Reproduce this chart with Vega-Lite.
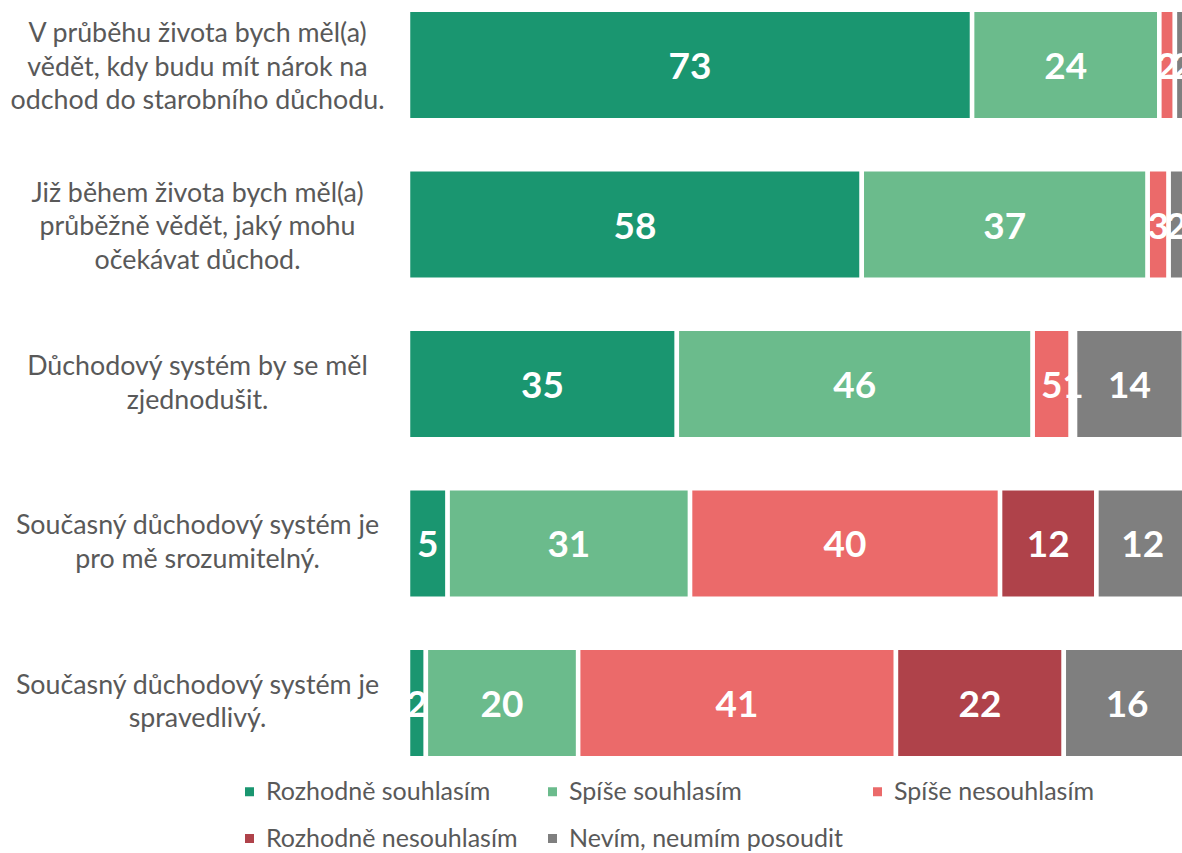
{
  "$schema": "https://vega.github.io/schema/vega-lite/v6.json",
  "width": 777,
  "height": 768,
  "autosize": {"type": "none"},
  "padding": {"left": 408, "top": 0, "right": 0, "bottom": 85},
  "background": "white",
  "config": {"view": {"stroke": null}, "font": "Lato"},
  "data": {
    "values": [
      {"q": "V průběhu života bych měl(a)|vědět, kdy budu mít nárok na|odchod do starobního důchodu.", "s": "Rozhodně souhlasím", "k": 1, "v": 72.6},
      {"q": "V průběhu života bych měl(a)|vědět, kdy budu mít nárok na|odchod do starobního důchodu.", "s": "Spíše souhlasím", "k": 2, "v": 24.1},
      {"q": "V průběhu života bych měl(a)|vědět, kdy budu mít nárok na|odchod do starobního důchodu.", "s": "Spíše nesouhlasím", "k": 3, "v": 2.0},
      {"q": "V průběhu života bych měl(a)|vědět, kdy budu mít nárok na|odchod do starobního důchodu.", "s": "Nevím, neumím posoudit", "k": 5, "v": 1.9},
      {"q": "Již během života bych měl(a)|průběžně vědět, jaký mohu|očekávat důchod.", "s": "Rozhodně souhlasím", "k": 1, "v": 58.4},
      {"q": "Již během života bych měl(a)|průběžně vědět, jaký mohu|očekávat důchod.", "s": "Spíše souhlasím", "k": 2, "v": 36.8},
      {"q": "Již během života bych měl(a)|průběžně vědět, jaký mohu|očekávat důchod.", "s": "Spíše nesouhlasím", "k": 3, "v": 2.7},
      {"q": "Již během života bych měl(a)|průběžně vědět, jaký mohu|očekávat důchod.", "s": "Nevím, neumím posoudit", "k": 5, "v": 2.0},
      {"q": "Důchodový systém by se měl|zjednodušit.", "s": "Rozhodně souhlasím", "k": 1, "v": 34.6},
      {"q": "Důchodový systém by se měl|zjednodušit.", "s": "Spíše souhlasím", "k": 2, "v": 45.8},
      {"q": "Důchodový systém by se měl|zjednodušit.", "s": "Spíše nesouhlasím", "k": 3, "v": 4.9},
      {"q": "Důchodový systém by se měl|zjednodušit.", "s": "Rozhodně nesouhlasím", "k": 4, "v": 0.55},
      {"q": "Důchodový systém by se měl|zjednodušit.", "s": "Nevím, neumím posoudit", "k": 5, "v": 14.0},
      {"q": "Současný důchodový systém je|pro mě srozumitelný.", "s": "Rozhodně souhlasím", "k": 1, "v": 5.1},
      {"q": "Současný důchodový systém je|pro mě srozumitelný.", "s": "Spíše souhlasím", "k": 2, "v": 31.2},
      {"q": "Současný důchodový systém je|pro mě srozumitelný.", "s": "Spíše nesouhlasím", "k": 3, "v": 39.9},
      {"q": "Současný důchodový systém je|pro mě srozumitelný.", "s": "Rozhodně nesouhlasím", "k": 4, "v": 12.4},
      {"q": "Současný důchodový systém je|pro mě srozumitelný.", "s": "Nevím, neumím posoudit", "k": 5, "v": 11.9},
      {"q": "Současný důchodový systém je|spravedlivý.", "s": "Rozhodně souhlasím", "k": 1, "v": 2.3},
      {"q": "Současný důchodový systém je|spravedlivý.", "s": "Spíše souhlasím", "k": 2, "v": 19.6},
      {"q": "Současný důchodový systém je|spravedlivý.", "s": "Spíše nesouhlasím", "k": 3, "v": 40.9},
      {"q": "Současný důchodový systém je|spravedlivý.", "s": "Rozhodně nesouhlasím", "k": 4, "v": 21.6},
      {"q": "Současný důchodový systém je|spravedlivý.", "s": "Nevím, neumím posoudit", "k": 5, "v": 16.3}
    ]
  },
  "transform": [
    {"stack": "v", "groupby": ["q"], "sort": [{"field": "k"}], "as": ["x0", "x1"]},
    {"calculate": "(datum.x0 + datum.x1) / 2", "as": "xm"}
  ],
  "encoding": {
    "y": {
      "field": "q",
      "type": "nominal",
      "sort": [
        "V průběhu života bych měl(a)|vědět, kdy budu mít nárok na|odchod do starobního důchodu.",
        "Již během života bych měl(a)|průběžně vědět, jaký mohu|očekávat důchod.",
        "Důchodový systém by se měl|zjednodušit.",
        "Současný důchodový systém je|pro mě srozumitelný.",
        "Současný důchodový systém je|spravedlivý."
      ],
      "scale": {"paddingInner": 0.307, "paddingOuter": 0.0611},
      "axis": {
        "title": null,
        "domain": false,
        "ticks": false,
        "grid": false,
        "labelAlign": "center",
        "labelPadding": 211,
        "labelFont": "Lato",
        "labelFontSize": 26.8,
        "labelColor": "#595959",
        "labelLineHeight": 33.5,
        "labelLimit": 500,
        "labelOffset": {"condition": {"test": "length(split(datum.label, '|')) > 2", "value": -31}, "value": -17},
        "labelExpr": "split(datum.label, '|')"
      }
    }
  },
  "layer": [
    {
      "mark": {"type": "bar", "stroke": "white", "strokeWidth": 4.5},
      "encoding": {
        "x": {"field": "x0", "type": "quantitative", "scale": {"domain": [0, 100], "nice": false}, "axis": null},
        "x2": {"field": "x1"},
        "color": {
          "field": "s",
          "type": "nominal",
          "scale": {
            "domain": ["Rozhodně souhlasím", "Spíše souhlasím", "Spíše nesouhlasím", "Rozhodně nesouhlasím", "Nevím, neumím posoudit"],
            "range": ["#1A9670", "#6BBB8C", "#EB6A6A", "#AF424A", "#7F7F7F"]
          },
          "legend": {
            "orient": "none",
            "legendX": -171,
            "legendY": 779,
            "columns": 3,
            "direction": "horizontal",
            "title": null,
            "symbolType": "square",
            "symbolSize": 81,
            "symbolStrokeWidth": 0,
            "labelFont": "Lato",
            "labelFontSize": 25,
            "labelColor": "#595959",
            "labelOffset": 4,
            "labelLimit": 400,
            "columnPadding": 22,
            "rowPadding": 21
          }
        }
      }
    },
    {
      "mark": {"type": "text", "color": "white", "font": "Lato", "fontSize": 37, "fontWeight": "bold", "baseline": "middle", "align": "center", "dy": 3},
      "encoding": {
        "x": {"field": "xm", "type": "quantitative"},
        "text": {"field": "v", "type": "quantitative", "format": ".0f"}
      }
    }
  ]
}
